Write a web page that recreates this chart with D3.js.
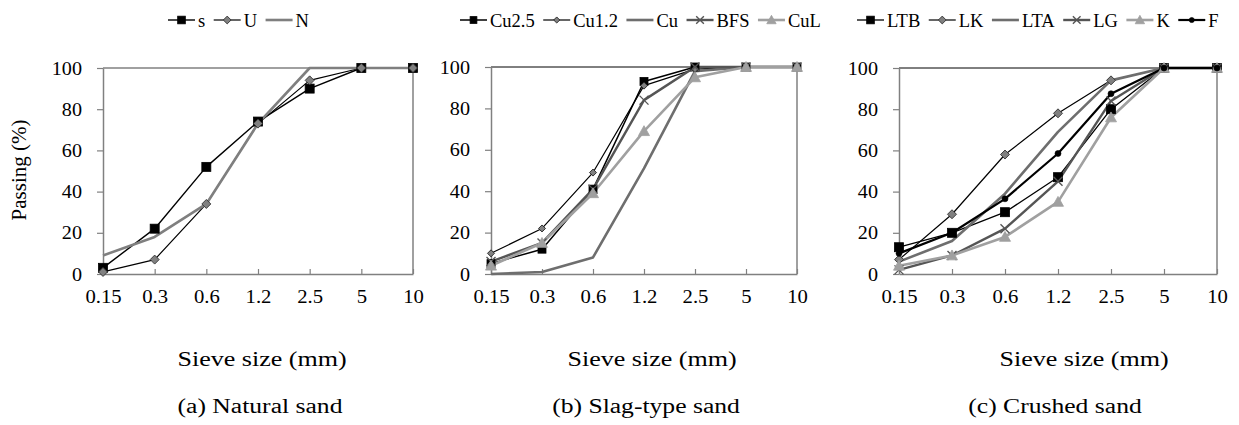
<!DOCTYPE html>
<html><head><meta charset="utf-8">
<script src="https://cdn.jsdelivr.net/npm/d3@7"></script>
</head>
<body style="margin:0;background:#fff"><svg id="chart" width="1239" height="425"></svg>
<script>
const sieveSizes = ["0.15","0.3","0.6","1.2","2.5","5","10"];
const yTicks = [0,20,40,60,80,100];

// (a) Natural sand
const natS = [3, 22, 52, 74, 90, 100, 100];
const natU = [1, 7, 34, 73, 94, 100, 100];
const natN = [9, 18, 34, 73, 100, 100, 100];
// (b) Slag-type sand
const slagCu25 = [5, 12, 41, 93, 100, 100, 100];
const slagCu12 = [10, 22, 49, 91, 99, 100, 100];
const slagCu = [0, 1, 8, 51, 98, 100, 100];
const slagBFS = [6, 15, 41, 84, 100, 100, 100];
const slagCuL = [4, 15, 39, 69, 95, 100, 100];
// (c) Crushed sand
const crLTB = [13, 20, 30, 47, 80, 100, 100];
const crLK = [7, 29, 58, 78, 94, 100, 100];
const crLTA = [6, 16, 39, 69, 94, 100, 100];
const crLG = [2, 9, 22, 45, 84, 100, 100];
const crK = [4, 9, 18, 35, 76, 100, 100];
const crF = [10, 20, 36.5, 58.5, 87.5, 100, 100];

const captions = ["(a) Natural sand", "(b) Slag-type sand", "(c) Crushed sand"];
const xTitle = "Sieve size (mm)";
const yTitle = "Passing (%)";

const FONT = '"Liberation Serif"';

const STY = {
  s:     {line:"#000", w:1.4, marker:"square", fill:"#000", stroke:"#000", size:9},
  U:     {line:"#000", w:1.2, marker:"diamond", fill:"#808080", stroke:"#333", size:8},
  N:     {line:"#7f7f7f", w:2.6, marker:null},
  Cu25:  {line:"#000", w:1.5, marker:"square", fill:"#000", stroke:"#000", size:8},
  Cu12:  {line:"#000", w:1.2, marker:"diamond", fill:"#808080", stroke:"#222", size:6},
  Cu:    {line:"#6e6e6e", w:2.6, marker:null},
  BFS:   {line:"#555", w:2.4, marker:"x", fill:"none", stroke:"#555", size:9},
  CuL:   {line:"#a0a0a0", w:2.6, marker:"triangle", fill:"#a0a0a0", stroke:"#a0a0a0", size:11},
  LTB:   {line:"#000", w:1.3, marker:"square", fill:"#000", stroke:"#000", size:9},
  LK:    {line:"#000", w:1.2, marker:"diamond", fill:"#808080", stroke:"#333", size:8},
  LTA:   {line:"#6e6e6e", w:2.6, marker:null},
  LG:    {line:"#555", w:2.4, marker:"x", fill:"none", stroke:"#555", size:9},
  K:     {line:"#a0a0a0", w:2.6, marker:"triangle", fill:"#a0a0a0", stroke:"#a0a0a0", size:11},
  F:     {line:"#000", w:2.2, marker:"circle", fill:"#000", stroke:"#000", size:6}
};

const panels = [
  {box:{l:103,r:413,t:68,b:274}, topColor:"#808080", legendX:168, titleX:262, capX:260,
   series:[["s",natS,"s"],["U",natU,"U"],["N",natN,"N"]]},
  {box:{l:491,r:797,t:67,b:274}, topColor:"#000", legendX:460, titleX:652, capX:646,
   series:[["Cu2.5",slagCu25,"Cu25"],["Cu1.2",slagCu12,"Cu12"],["Cu",slagCu,"Cu"],["BFS",slagBFS,"BFS"],["CuL",slagCuL,"CuL"]]},
  {box:{l:899,r:1217,t:68,b:274}, topColor:"#000", legendX:857, titleX:1084, capX:1055,
   series:[["LTB",crLTB,"LTB"],["LK",crLK,"LK"],["LTA",crLTA,"LTA"],["LG",crLG,"LG"],["K",crK,"K"],["F",crF,"F"]]}
];

const svg = d3.select("#chart").style("font-family", FONT);

function drawMarker(g, type, x, y, st){
  const s = st.size;
  if(type==="square"){
    g.append("rect").attr("x",x-s/2).attr("y",y-s/2).attr("width",s).attr("height",s)
      .attr("fill",st.fill).attr("stroke",st.stroke).attr("stroke-width",0.8);
  } else if(type==="diamond"){
    const h=s/2+0.5;
    g.append("path").attr("d",`M${x},${y-h}L${x+h},${y}L${x},${y+h}L${x-h},${y}Z`)
      .attr("fill",st.fill).attr("stroke",st.stroke).attr("stroke-width",0.9);
  } else if(type==="triangle"){
    const h=s/2;
    g.append("path").attr("d",`M${x},${y-h}L${x+h},${y+h*0.8}L${x-h},${y+h*0.8}Z`)
      .attr("fill",st.fill).attr("stroke",st.stroke).attr("stroke-width",0.8);
  } else if(type==="x"){
    const h=s/2;
    g.append("path").attr("d",`M${x-h},${y-h}L${x+h},${y+h}M${x-h},${y+h}L${x+h},${y-h}`)
      .attr("fill","none").attr("stroke",st.stroke).attr("stroke-width",1.4);
  } else if(type==="circle"){
    g.append("circle").attr("cx",x).attr("cy",y).attr("r",s/2)
      .attr("fill",st.fill).attr("stroke",st.stroke).attr("stroke-width",0.6);
  }
}

function stretchText(g, txt, x, y, size, sx){
  return g.append("text").attr("transform",`translate(${x},${y}) scale(${sx},1)`)
    .attr("font-size",size).attr("text-anchor","middle")
    .style("font-family",FONT).attr("fill","#000").text(txt);
}

panels.forEach((p,pi)=>{
  const b=p.box;
  const x = d3.scalePoint().domain(sieveSizes).range([b.l,b.r]);
  const y = d3.scaleLinear().domain([0,100]).range([b.b,b.t]);
  const g = svg.append("g");

  // frame
  g.append("line").attr("x1",b.l).attr("x2",b.r).attr("y1",b.t).attr("y2",b.t)
    .attr("stroke",p.topColor).attr("stroke-width",p.topColor==="#000"?1:1.5);
  g.append("line").attr("x1",b.r).attr("x2",b.r).attr("y1",b.t).attr("y2",b.b)
    .attr("stroke","#808080").attr("stroke-width",1.5);

  // y axis
  const ya = g.append("g").attr("transform",`translate(${b.l},0)`)
    .call(d3.axisLeft(y).tickValues(yTicks).tickSize(6).tickPadding(0).tickSizeOuter(0));
  ya.attr("font-family",null).style("font-family",FONT);
  ya.select(".domain").attr("stroke","#808080").attr("stroke-width",1.5);
  ya.selectAll(".tick line").attr("stroke","#808080").attr("stroke-width",1.2);
  ya.selectAll(".tick text").attr("x",null).attr("dy",null)
    .attr("transform","translate(-21,6) scale(1.12,1)")
    .attr("font-size",18).style("font-family",FONT).attr("fill","#000");

  // x axis
  const xa = g.append("g").attr("transform",`translate(0,${b.b})`)
    .call(d3.axisBottom(x).tickSize(-5).tickPadding(0).tickSizeOuter(0));
  xa.attr("font-family",null).style("font-family",FONT);
  xa.select(".domain").attr("stroke","#808080").attr("stroke-width",1.5);
  xa.selectAll(".tick line").attr("stroke","#808080").attr("stroke-width",1.2);
  xa.selectAll(".tick text").attr("y",null).attr("dy",null)
    .attr("transform","translate(0,29) scale(1.15,1)")
    .attr("font-size",18).style("font-family",FONT).attr("fill","#000");

  // series
  const line = d3.line().x((d,i)=>x(sieveSizes[i])).y(d=>y(d));
  p.series.forEach(([name,vals,key])=>{
    const st=STY[key];
    g.append("path").datum(vals).attr("d",line).attr("fill","none")
      .attr("stroke",st.line).attr("stroke-width",st.w).attr("stroke-linejoin","round");
  });
  p.series.forEach(([name,vals,key])=>{
    const st=STY[key];
    if(!st.marker) return;
    vals.forEach((v,i)=>drawMarker(g, st.marker, x(sieveSizes[i]), y(v), st));
  });

  // legend
  let lx = p.legendX;
  const ly = 20;
  p.series.forEach(([name,vals,key])=>{
    const st=STY[key];
    g.append("line").attr("x1",lx).attr("x2",lx+27).attr("y1",ly).attr("y2",ly)
      .attr("stroke",st.line).attr("stroke-width",st.w);
    if(st.marker) drawMarker(g, st.marker, lx+13.5, ly, Object.assign({},st,{size:st.size*0.85}));
    const t = g.append("text").attr("x",lx+30).attr("y",ly+6.5).attr("font-size",18.5)
      .style("font-family",FONT).attr("fill","#000").text(name);
    lx += 30 + t.node().getComputedTextLength() + 8.5;
  });

  // titles
  stretchText(g, xTitle, p.titleX, 366, 20.5, 1.27);
  stretchText(g, captions[pi], p.capX, 413, 20.5, 1.25);
});

// y title
svg.append("text").attr("transform","translate(26,170) rotate(-90)")
  .attr("font-size",21).attr("text-anchor","middle").style("font-family",FONT)
  .attr("fill","#000").text(yTitle);
</script>
</body></html>
